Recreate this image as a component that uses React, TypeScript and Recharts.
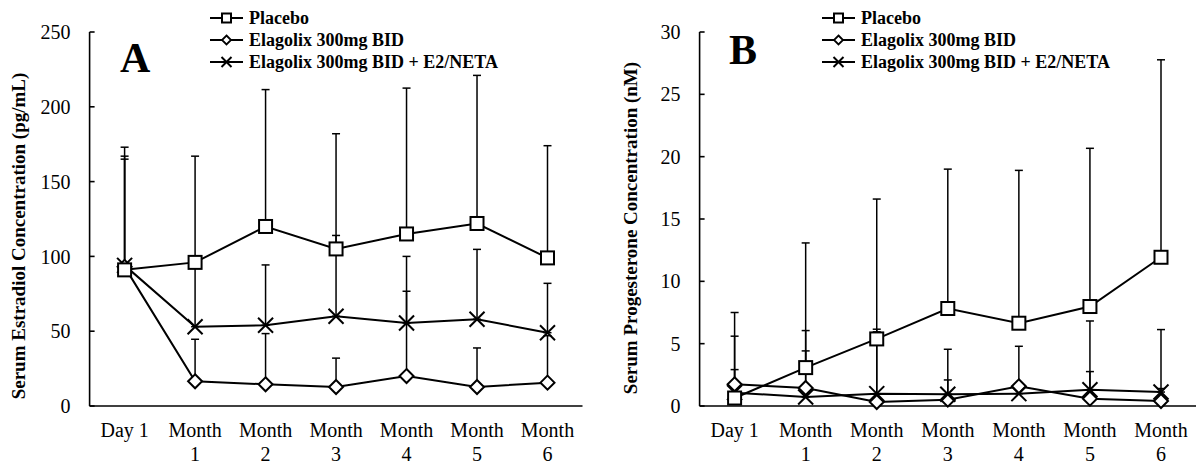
import React from 'react';
import { LineChart, Line, XAxis, YAxis, ErrorBar, Legend, Label } from 'recharts';

const FONT = "'Liberation Serif', 'Times New Roman', serif";

const categories = ['Day 1', 'Month 1', 'Month 2', 'Month 3', 'Month 4', 'Month 5', 'Month 6'];
const seriesNames = ['Placebo', 'Elagolix 300mg BID', 'Elagolix 300mg BID + E2/NETA'];

// Panel A: serum estradiol (pg/mL) — means and upper error-bar ends
const estradiolPlacebo = [91, 96, 120, 105, 115, 122, 99];
const estradiolElagolix = [93, 16.5, 14.5, 12.7, 20, 12.7, 15.6];
const estradiolAddback = [94, 53, 54, 60, 55.5, 58, 49];
const estradiolPlaceboUpper = [173, 167, 211.5, 182, 212.5, 221, 174];
const estradiolElagolixUpper = [167, 44.6, 48.4, 32, 76.7, 38.8, 47];
const estradiolAddbackUpper = [165, 95, 94.3, 114, 100, 104.7, 82];
const estradiolTicks = [0, 50, 100, 150, 200, 250];

// Panel B: serum progesterone (nM)
const progPlacebo = [0.64, 3.08, 5.38, 7.82, 6.64, 7.98, 11.93];
const progElagolix = [1.74, 1.45, 0.32, 0.51, 1.58, 0.59, 0.4];
const progAddback = [1.07, 0.72, 0.99, 0.94, 0.99, 1.31, 1.12];
const progPlaceboUpper = [5.6, 13.08, 16.6, 19.0, 18.9, 20.67, 27.77];
const progElagolixUpper = [7.5, 6.05, 5.95, 4.55, 4.79, 6.82, 6.13];
const progAddbackUpper = [2.92, 4.42, 6.16, 2.09, 1.8, 2.76, 1.4];
const progTicks = [0, 5, 10, 15, 20, 25, 30];

function buildRows(p: number[], e: number[], a: number[], pu: number[], eu: number[], au: number[]) {
  return categories.map((cat, i) => ({
    cat,
    placebo: p[i],
    elagolix: e[i],
    addback: a[i],
    placeboErr: [0, pu[i] - p[i]],
    elagolixErr: [0, eu[i] - e[i]],
    addbackErr: [0, au[i] - a[i]],
  }));
}

const estradiolRows = buildRows(estradiolPlacebo, estradiolElagolix, estradiolAddback, estradiolPlaceboUpper, estradiolElagolixUpper, estradiolAddbackUpper);
const progRows = buildRows(progPlacebo, progElagolix, progAddback, progPlaceboUpper, progElagolixUpper, progAddbackUpper);

const SquareShape = ({ cx, cy, s, sw }: any) => (
  <rect x={cx - s / 2} y={cy - s / 2} width={s} height={s} fill="#fff" stroke="#000" strokeWidth={sw} />
);
const DiamondShape = ({ cx, cy, h, sw }: any) => (
  <polygon points={`${cx},${cy - h} ${cx + h},${cy} ${cx},${cy + h} ${cx - h},${cy}`} fill="#fff" stroke="#000" strokeWidth={sw} />
);
const CrossShape = ({ cx, cy, h, sw }: any) => (
  <g>
    <line x1={cx - h} y1={cy - h} x2={cx + h} y2={cy + h} stroke="#000" strokeWidth={sw} />
    <line x1={cx - h} y1={cy + h} x2={cx + h} y2={cy - h} stroke="#000" strokeWidth={sw} />
  </g>
);

const squareDot = (props: any) => {
  const { cx, cy, index } = props;
  if (cx == null || cy == null) return <g key={`sq${index}`} />;
  return <g key={`sq${index}`}><SquareShape cx={cx} cy={cy} s={13} sw={2} /></g>;
};
const diamondDot = (props: any) => {
  const { cx, cy, index } = props;
  if (cx == null || cy == null) return <g key={`di${index}`} />;
  return <g key={`di${index}`}><DiamondShape cx={cx} cy={cy} h={7} sw={2} /></g>;
};
const crossDot = (props: any) => {
  const { cx, cy, index } = props;
  if (cx == null || cy == null) return <g key={`cr${index}`} />;
  return <g key={`cr${index}`}><CrossShape cx={cx} cy={cy} h={7.5} sw={2} /></g>;
};

const CatTick = (props: any) => {
  const { x, y, payload } = props;
  const v = String(payload.value);
  const lines = v.startsWith('Day') ? [v] : v.split(' ');
  return (
    <g transform={`translate(${x},${y})`}>
      <text textAnchor="middle" fontFamily={FONT} fontSize={20} fill="#000">
        {lines.map((l, i) => (
          <tspan key={i} x={0} y={31 + i * 23.5}>{l}</tspan>
        ))}
      </text>
    </g>
  );
};

const LegendBox = () => (
  <div style={{ fontFamily: FONT, fontWeight: 'bold', fontSize: 18, color: '#000' }}>
    {seriesNames.map((name, i) => (
      <div key={name} style={{ display: 'flex', alignItems: 'center', height: 22, whiteSpace: 'nowrap' }}>
        <svg width={36} height={22} style={{ display: 'block' }}>
          <line x1={0} y1={11} x2={33} y2={11} stroke="#000" strokeWidth={2} />
          {i === 0 && <SquareShape cx={16.5} cy={11} s={9} sw={2} />}
          {i === 1 && <DiamondShape cx={16.5} cy={11} h={4.5} sw={1.8} />}
          {i === 2 && <CrossShape cx={16.5} cy={11} h={5} sw={2} />}
        </svg>
        <span style={{ marginLeft: 3, lineHeight: '22px' }}>{name}</span>
      </div>
    ))}
  </div>
);

const tickStyle = { fontSize: 20, fill: '#000', fontFamily: FONT };

function Panel({ rows, ticks, domainMax, yAxisWidth, marginRight, title, titleX, titleY, legendLeft }: any) {
  return (
    <LineChart width={598} height={465} data={rows} margin={{ top: 32, right: marginRight, bottom: 0, left: 0 }}>
      <XAxis
        dataKey="cat"
        interval={0}
        tickLine={false}
        tickSize={0}
        tickMargin={0}
        height={59}
        padding={{ left: 35, right: 35 }}
        axisLine={{ stroke: '#000', strokeWidth: 1.6 }}
        tick={<CatTick />}
      />
      <YAxis
        width={yAxisWidth}
        type="number"
        domain={[0, domainMax]}
        ticks={ticks}
        interval={0}
        tickSize={-5}
        tickMargin={24}
        axisLine={{ stroke: '#000', strokeWidth: 1.6 }}
        tickLine={{ stroke: '#000', strokeWidth: 1.6 }}
        tick={tickStyle}
      >
        <Label
          content={() => (
            <text
              x={titleX}
              y={titleY}
              transform={`rotate(-90 ${titleX} ${titleY})`}
              textAnchor="middle"
              dominantBaseline="central"
              fontFamily={FONT}
              fontWeight="bold"
              fontSize={19}
              fill="#000"
            >
              {title}
            </text>
          )}
        />
      </YAxis>
      <Legend
        layout="vertical"
        align="center"
        verticalAlign="middle"
        wrapperStyle={{ left: legendLeft, top: 7, width: 'auto', height: 'auto' }}
        content={<LegendBox />}
      />
      <Line type="linear" dataKey="elagolix" stroke="#000" strokeWidth={2} dot={diamondDot} activeDot={false} isAnimationActive={false} legendType="none">
        <ErrorBar dataKey="elagolixErr" direction="y" width={4} stroke="#000" strokeWidth={1.5} isAnimationActive={false} />
      </Line>
      <Line type="linear" dataKey="addback" stroke="#000" strokeWidth={2} dot={crossDot} activeDot={false} isAnimationActive={false} legendType="none">
        <ErrorBar dataKey="addbackErr" direction="y" width={4} stroke="#000" strokeWidth={1.5} isAnimationActive={false} />
      </Line>
      <Line type="linear" dataKey="placebo" stroke="#000" strokeWidth={2} dot={squareDot} activeDot={false} isAnimationActive={false} legendType="none">
        <ErrorBar dataKey="placeboErr" direction="y" width={4} stroke="#000" strokeWidth={1.5} isAnimationActive={false} />
      </Line>
    </LineChart>
  );
}

const letterStyle: React.CSSProperties = {
  position: 'absolute',
  fontFamily: FONT,
  fontWeight: 'bold',
  fontSize: 42,
  lineHeight: '42px',
  color: '#000',
};

export default function App() {
  return (
    <div style={{ position: 'absolute', left: 0, top: 0, width: 1196, height: 465, background: '#fff', overflow: 'hidden' }}>
      <div style={{ position: 'absolute', left: 0, top: 0 }}>
        <Panel
          rows={estradiolRows}
          ticks={estradiolTicks}
          domainMax={250}
          yAxisWidth={89.6}
          marginRight={15.5}
          title="Serum Estradiol Concentration (pg/mL)"
          titleX={18}
          titleY={236}
          legendLeft={210}
        />
      </div>
      <div style={{ position: 'absolute', left: 598, top: 0 }}>
        <Panel
          rows={progRows}
          ticks={progTicks}
          domainMax={30}
          yAxisWidth={101.6}
          marginRight={0}
          title="Serum Progesterone Concentration (nM)"
          titleX={32}
          titleY={228}
          legendLeft={224}
        />
      </div>
      <div style={{ ...letterStyle, left: 120, top: 37 }}>A</div>
      <div style={{ ...letterStyle, left: 729, top: 29 }}>B</div>
    </div>
  );
}
